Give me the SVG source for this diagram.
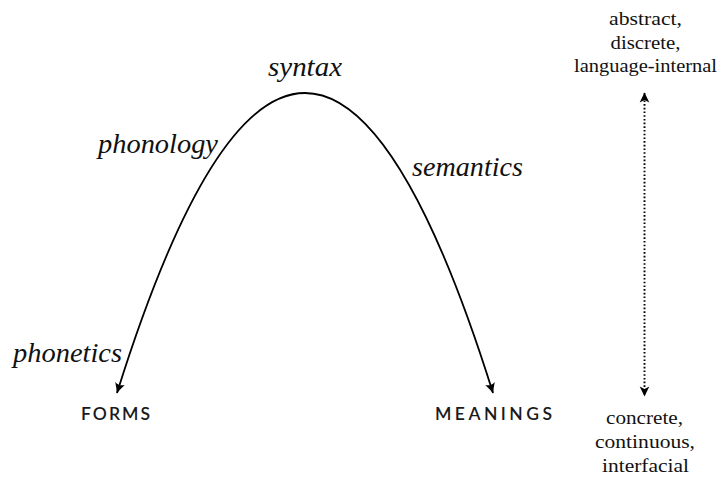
<svg xmlns="http://www.w3.org/2000/svg" width="723" height="477" viewBox="0 0 723 477">
<style>
.lab{font-family:"Liberation Serif",serif;font-style:italic;font-size:27px;fill:#111}
.cap{font-family:Lato,"Liberation Sans",sans-serif;font-size:17.5px;font-weight:600;fill:#1a1a1a;letter-spacing:3px}
.side{font-family:"Liberation Serif",serif;font-size:19.5px;fill:#111;text-anchor:middle}
.curve{fill:none;stroke:#000;stroke-width:1.8}
.dot{fill:none;stroke:#000;stroke-width:1.9;stroke-dasharray:1.6 2.1}
</style>
<defs>
<marker id="arr" markerUnits="userSpaceOnUse" viewBox="-11 -6 12 12" refX="0" refY="0" markerWidth="12" markerHeight="12" orient="auto-start-reverse" overflow="visible">
<path d="M0.6,0 Q-4,-1.6 -10,-5 Q-6.8,0 -10,5 Q-4,1.6 0.6,0Z" fill="#000"/>
</marker>
<marker id="arr2" markerUnits="userSpaceOnUse" viewBox="-11 -6 12 12" refX="0" refY="0" markerWidth="12" markerHeight="12" orient="auto-start-reverse" overflow="visible">
<path d="M0.6,0 L-9.5,-4.8 L-7,0 L-9.5,4.8Z" fill="#000"/>
</marker>
</defs>
<g id="connectors">
<path id="arch" class="curve" d="M117,393 Q305,-207 493,393" marker-start="url(#arr)" marker-end="url(#arr)"/>
<path id="scale" class="dot" d="M644.5,93 L644.5,396" marker-start="url(#arr2)" marker-end="url(#arr2)"/>
</g>
<g id="syntax"><text class="lab" x="268" y="76" textLength="74" lengthAdjust="spacingAndGlyphs">syntax</text></g>
<g id="phonology"><text class="lab" x="98" y="153" textLength="120" lengthAdjust="spacingAndGlyphs">phonology</text></g>
<g id="semantics"><text class="lab" x="412" y="175.5" textLength="111" lengthAdjust="spacingAndGlyphs">semantics</text></g>
<g id="phonetics"><text class="lab" x="13" y="362" textLength="109" lengthAdjust="spacingAndGlyphs">phonetics</text></g>
<g id="forms"><text class="cap" x="81" y="419.5" textLength="72" lengthAdjust="spacing">FORMS</text></g>
<g id="meanings"><text class="cap" x="435" y="419.5" textLength="120" lengthAdjust="spacing">MEANINGS</text></g>
<g id="top-label">
<text class="side" x="645.5" y="25" textLength="73" lengthAdjust="spacingAndGlyphs">abstract,</text>
<text class="side" x="645.5" y="48.5" textLength="70" lengthAdjust="spacingAndGlyphs">discrete,</text>
<text class="side" x="645.5" y="72" textLength="143" lengthAdjust="spacingAndGlyphs">language-internal</text>
</g>
<g id="bottom-label">
<text class="side" x="644.5" y="423.5" textLength="77" lengthAdjust="spacingAndGlyphs">concrete,</text>
<text class="side" x="645" y="448" textLength="100" lengthAdjust="spacingAndGlyphs">continuous,</text>
<text class="side" x="645.5" y="472" textLength="87" lengthAdjust="spacingAndGlyphs">interfacial</text>
</g>
</svg>
